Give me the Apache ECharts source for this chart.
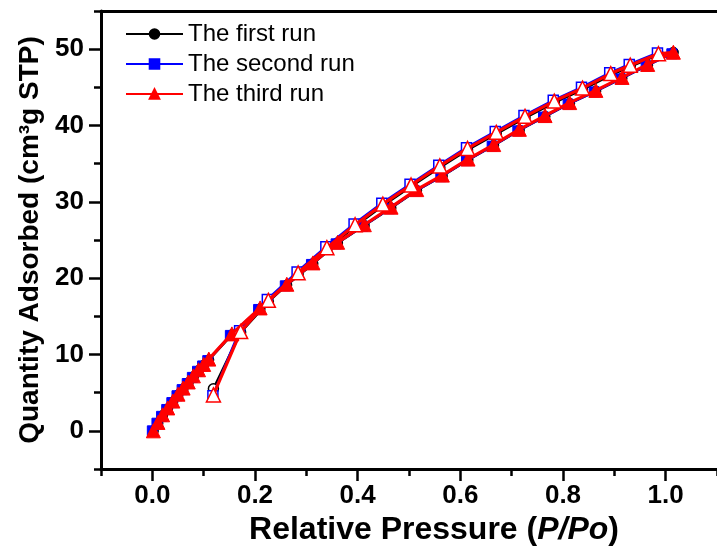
<!DOCTYPE html>
<html>
<head>
<meta charset="utf-8">
<script src="https://cdn.jsdelivr.net/npm/echarts@6/dist/echarts.min.js"></script>
<style>html,body{margin:0;padding:0;background:#fff}#c{width:717px;height:554px}</style>
</head>
<body>
<div id="c"></div>
<script>
// ---- data ----
const seriesNames = ['The first run', 'The second run', 'The third run'];
const xTickLabels = [0, 0.2, 0.4, 0.6, 0.8, 1.0];
const xMinorTicks = [-0.1, 0.1, 0.3, 0.5, 0.7, 0.9, 1.1];
const yTickLabels = [0, 10, 20, 30, 40, 50];
const yMinorTicks = [-5, 5, 15, 25, 35, 45, 55];

// first run (black circles)
const run1AdsX = [0.002,0.011,0.020,0.030,0.040,0.050,0.060,0.070,0.080,0.090,0.100,0.110,0.155,0.210,0.262,0.313,0.361,0.413,0.465,0.515,0.565,0.615,0.665,0.715,0.765,0.813,0.864,0.915,0.965,1.015];
const run1AdsY = [0.0,1.0,2.0,2.9,3.8,4.7,5.5,6.3,7.1,7.9,8.6,9.3,12.6,16.0,19.1,21.9,24.6,26.9,29.2,31.5,33.4,35.5,37.4,39.4,41.2,42.9,44.5,46.2,47.9,49.6];
const run1DesX = [0.986,0.931,0.893,0.838,0.783,0.726,0.670,0.614,0.560,0.504,0.449,0.395,0.340,0.284,0.226,0.172,0.119];
const run1DesY = [49.3,47.7,46.6,44.7,43.0,41.0,38.9,36.8,34.5,32.0,29.5,26.8,23.8,20.5,16.9,12.9,5.5];

// second run (blue squares)
const run2AdsX = [0.000,0.009,0.018,0.028,0.038,0.048,0.058,0.068,0.078,0.088,0.098,0.108,0.152,0.207,0.259,0.310,0.358,0.410,0.462,0.512,0.562,0.612,0.662,0.712,0.762,0.810,0.861,0.912,0.962,1.012];
const run2AdsY = [0.0,1.0,1.9,2.8,3.7,4.6,5.4,6.2,7.0,7.8,8.5,9.2,12.5,15.9,19.0,21.8,24.5,26.8,29.1,31.4,33.3,35.4,37.3,39.3,41.1,42.8,44.4,46.1,47.8,49.4];
const run2DesX = [0.984,0.929,0.891,0.836,0.781,0.724,0.668,0.612,0.558,0.502,0.447,0.393,0.338,0.282,0.224,0.170,0.118];
const run2DesY = [49.5,48.0,46.9,45.0,43.3,41.3,39.2,37.1,34.8,32.3,29.8,27.1,24.1,20.8,17.2,13.1,4.6];

// third run (red triangles)
const run3AdsX = [0.002,0.011,0.020,0.030,0.040,0.050,0.060,0.070,0.080,0.090,0.100,0.110,0.155,0.210,0.262,0.313,0.361,0.413,0.465,0.515,0.565,0.615,0.665,0.715,0.765,0.813,0.864,0.915,0.965,1.015];
const run3AdsY = [0.0,1.1,2.1,3.0,3.9,4.8,5.6,6.4,7.2,8.0,8.7,9.4,12.7,16.1,19.2,22.0,24.7,27.0,29.3,31.6,33.5,35.6,37.5,39.5,41.3,43.0,44.6,46.3,48.0,49.6];
const run3DesX = [0.986,0.931,0.893,0.838,0.783,0.726,0.670,0.614,0.560,0.504,0.449,0.395,0.340,0.284,0.226,0.172,0.119];
const run3DesY = [49.4,47.9,46.8,44.9,43.2,41.2,39.1,37.0,34.7,32.2,29.7,27.0,24.0,20.7,17.1,13.0,4.7];

const colors = ['#000000', '#0000ff', '#ff0000'];
const symbols = ['circle', 'rect', 'triangle'];
const sizes = [10, 10, 14];
const lineWidths = [2.5, 2.5, 3.2];

function build(ax, ay, dx, dy, color) {
  const d = [];
  for (let i = 0; i < ax.length; i++) d.push([ax[i], ay[i]]);
  for (let i = 0; i < dx.length; i++) d.push({value: [dx[i], dy[i]], itemStyle: {color: '#ffffff', borderColor: color, borderWidth: 1.5}});
  return d;
}
const runs = [
  build(run1AdsX, run1AdsY, run1DesX, run1DesY, colors[0]),
  build(run2AdsX, run2AdsY, run2DesX, run2DesY, colors[1]),
  build(run3AdsX, run3AdsY, run3DesX, run3DesY, colors[2])
];

const FONT = '"Liberation Sans", Arial, sans-serif';
const chart = echarts.init(document.getElementById('c'), null, {renderer: 'canvas'});
const axisLineStyle = {color: '#000', width: 3};

chart.setOption({
  animation: false,
  backgroundColor: '#fff',
  grid: {left: 101, top: 11, bottom: 85, right: -9, containLabel: false},
  legend: {
    left: 120, top: 17, orient: 'vertical',
    itemWidth: 57, itemHeight: 12, itemGap: 6,
    textStyle: {fontFamily: FONT, fontSize: 24, color: '#000'},
    data: seriesNames
  },
  xAxis: [
    {
      type: 'value', min: -0.1, max: 1.1, position: 'bottom',
      axisLine: {show: true, onZero: false, lineStyle: axisLineStyle},
      axisTick: {show: true, length: 12, lineStyle: {width: 2.5, color: '#000'}, customValues: xTickLabels},
      axisLabel: {show: true, customValues: xTickLabels, margin: 14, formatter: v => v.toFixed(1),
        fontFamily: FONT, fontWeight: 'bold', fontSize: 26, color: '#000'},
      splitLine: {show: false},
      name: '{b|Relative Pressure (}{i|P/Po}{b|)}',
      nameLocation: 'middle', nameGap: 43,
      nameTextStyle: {padding: [0, 0, 0, 50], rich: {
        b: {fontFamily: FONT, fontWeight: 'bold', fontSize: 32, color: '#000'},
        i: {fontFamily: FONT, fontWeight: 'bold', fontStyle: 'italic', fontSize: 32, color: '#000'}
      }}
    },
    {
      type: 'value', min: -0.1, max: 1.1, position: 'bottom',
      axisLine: {show: false, onZero: false},
      axisTick: {show: true, length: 7, lineStyle: {width: 2.5, color: '#000'}, customValues: xMinorTicks},
      axisLabel: {show: false}, splitLine: {show: false}
    },
    {
      type: 'value', min: -0.1, max: 1.1, position: 'top',
      axisLine: {show: true, onZero: false, lineStyle: axisLineStyle},
      axisTick: {show: false}, axisLabel: {show: false}, splitLine: {show: false}
    }
  ],
  yAxis: [
    {
      type: 'value', min: -5, max: 55, position: 'left',
      axisLine: {show: true, onZero: false, lineStyle: axisLineStyle},
      axisTick: {show: true, length: 12, lineStyle: {width: 2.5, color: '#000'}, customValues: yTickLabels},
      axisLabel: {show: true, customValues: yTickLabels, margin: 17,
        fontFamily: FONT, fontWeight: 'bold', fontSize: 26, color: '#000'},
      splitLine: {show: false},
      name: 'Quantity Adsorbed (cm³g STP)',
      nameLocation: 'middle', nameGap: 57, nameRotate: 90,
      nameTextStyle: {fontFamily: FONT, fontWeight: 'bold', fontSize: 28, color: '#000'}
    },
    {
      type: 'value', min: -5, max: 55, position: 'left',
      axisLine: {show: false, onZero: false},
      axisTick: {show: true, length: 7, lineStyle: {width: 2.5, color: '#000'}, customValues: yMinorTicks},
      axisLabel: {show: false}, splitLine: {show: false}
    }
  ],
  series: seriesNames.map((n, k) => ({
    name: n, type: 'line', xAxisIndex: 0, yAxisIndex: 0,
    data: runs[k],
    symbol: symbols[k], symbolSize: sizes[k], showAllSymbol: true,
    color: colors[k],
    lineStyle: {color: colors[k], width: lineWidths[k]},
    itemStyle: {color: colors[k], borderColor: colors[k], borderWidth: 1},
    clip: false, z: 2 + k
  }))
});
</script>
</body>
</html>
